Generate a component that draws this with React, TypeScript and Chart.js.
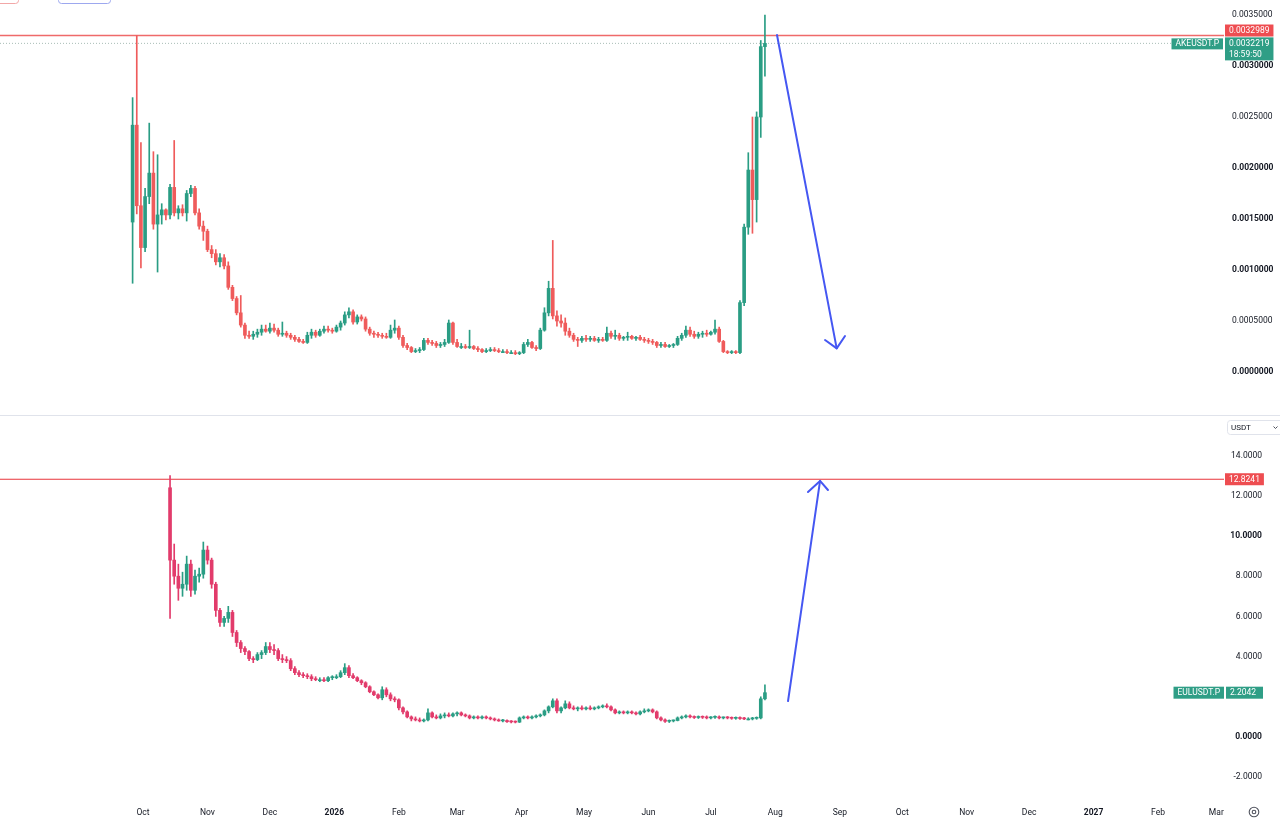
import React, { useEffect, useRef } from "react";
import { Chart, registerables } from "chart.js";

Chart.register(...registerables);

type Candle = [number, number, number, number]; // open, high, low, close

// time axis: day number counted from 1 Oct 2025
const monthTickDays = [0, 31, 61, 92, 123, 151, 182, 212, 243, 273, 304, 335, 365, 396, 426, 457, 488, 516];
const monthTickLabels = ["Oct", "Nov", "Dec", "2026", "Feb", "Mar", "Apr", "May", "Jun", "Jul", "Aug", "Sep", "Oct", "Nov", "Dec", "2027", "Feb", "Mar"];
const visibleDays = [-68.75, 519.7];

// one candle every 2 days
const candleStepDays = 2;
const akeStartDay = -5;
const eulStartDay = 13;

// AKEUSDT.P
const akeCandles: Candle[] = [
  [0.00147, 0.00269, 0.00087, 0.00242], [0.00242, 0.0032989, 0.00155, 0.00163], [0.00163, 0.00225, 0.00102, 0.00122],
  [0.00122, 0.0018, 0.00118, 0.00172], [0.00172, 0.00244, 0.00165, 0.00195], [0.00195, 0.00216, 0.0014, 0.00145],
  [0.00145, 0.00213, 0.00098, 0.00154], [0.00154, 0.00165, 0.00145, 0.00159], [0.00159, 0.0016, 0.00149, 0.00154],
  [0.00154, 0.00184, 0.0015, 0.00181], [0.00181, 0.00227, 0.00153, 0.00156], [0.00156, 0.00163, 0.0015, 0.0016],
  [0.0016, 0.00164, 0.00153, 0.00156], [0.00156, 0.00178, 0.00148, 0.00175], [0.00175, 0.00183, 0.00172, 0.0018],
  [0.0018, 0.00182, 0.00154, 0.00156], [0.00156, 0.0016, 0.0014, 0.00143], [0.00143, 0.00148, 0.00129, 0.00138],
  [0.00138, 0.0014, 0.00118, 0.0012], [0.0012, 0.00124, 0.00112, 0.00116], [0.00116, 0.0012, 0.00105, 0.00108],
  [0.00108, 0.00116, 0.00103, 0.00112], [0.00112, 0.00115, 0.00101, 0.00104], [0.00104, 0.00108, 0.00081, 0.00083],
  [0.00083, 0.00085, 0.0007, 0.00072], [0.00072, 0.00074, 0.00056, 0.00058], [0.00058, 0.00075, 0.00044, 0.00046],
  [0.00046, 0.00048, 0.00033, 0.00036], [0.00036, 0.0004, 0.00033, 0.00035], [0.00035, 0.0004, 0.00032, 0.00037],
  [0.00037, 0.00042, 0.00034, 0.00039], [0.00039, 0.00046, 0.00036, 0.00042], [0.00042, 0.00046, 0.00039, 0.0004],
  [0.0004, 0.00048, 0.00038, 0.00043], [0.00043, 0.00047, 0.00039, 0.00041], [0.00041, 0.00043, 0.00035, 0.00037],
  [0.00037, 0.00049, 0.00035, 0.00038], [0.00038, 0.0004, 0.00034, 0.00036], [0.00036, 0.00038, 0.00032, 0.00034],
  [0.00034, 0.00036, 0.0003, 0.00032], [0.00032, 0.00034, 0.00029, 0.0003], [0.0003, 0.00032, 0.00028, 0.00029],
  [0.00029, 0.00039, 0.00028, 0.00036], [0.00036, 0.00042, 0.00033, 0.00039], [0.00039, 0.00041, 0.00034, 0.00036],
  [0.00036, 0.00042, 0.00035, 0.0004], [0.0004, 0.00045, 0.00038, 0.00042], [0.00042, 0.00045, 0.00039, 0.00041],
  [0.00041, 0.00043, 0.00038, 0.0004], [0.0004, 0.00046, 0.00039, 0.00044], [0.00044, 0.0005, 0.00041, 0.00048],
  [0.00048, 0.00059, 0.00046, 0.00056], [0.00056, 0.00063, 0.00053, 0.00059], [0.00059, 0.00061, 0.00047, 0.00049],
  [0.00049, 0.00056, 0.00047, 0.00054], [0.00054, 0.00056, 0.0005, 0.00052], [0.00052, 0.00054, 0.0004, 0.00042],
  [0.00042, 0.00044, 0.00036, 0.00038], [0.00038, 0.0004, 0.00034, 0.00037], [0.00037, 0.00039, 0.00034, 0.00036],
  [0.00036, 0.00038, 0.00033, 0.00035], [0.00035, 0.00038, 0.00033, 0.00034], [0.00034, 0.00046, 0.00033, 0.00041],
  [0.00041, 0.00051, 0.00038, 0.00043], [0.00043, 0.00045, 0.00032, 0.00034], [0.00034, 0.00036, 0.00024, 0.00026],
  [0.00026, 0.00028, 0.00022, 0.00024], [0.00024, 0.00025, 0.00019, 0.0002], [0.0002, 0.00023, 0.00019, 0.00021],
  [0.00021, 0.00024, 0.00019, 0.00022], [0.00022, 0.00033, 0.00021, 0.00031], [0.00031, 0.00033, 0.00027, 0.00029],
  [0.00029, 0.00031, 0.00026, 0.00028], [0.00028, 0.0003, 0.00024, 0.00026], [0.00026, 0.00029, 0.00024, 0.00027],
  [0.00027, 0.00032, 0.00025, 0.00029], [0.00029, 0.00051, 0.00028, 0.00048], [0.00048, 0.00049, 0.00027, 0.00029],
  [0.00029, 0.00032, 0.00024, 0.00025], [0.00025, 0.00028, 0.00023, 0.00025], [0.00025, 0.00027, 0.00023, 0.00024],
  [0.00024, 0.00041, 0.00023, 0.00025], [0.00025, 0.00026, 0.00022, 0.00023], [0.00023, 0.00025, 0.0002, 0.00022],
  [0.00022, 0.00023, 0.00019, 0.0002], [0.0002, 0.00023, 0.00019, 0.00021], [0.00021, 0.00024, 0.0002, 0.00022],
  [0.00022, 0.00024, 0.0002, 0.00021], [0.00021, 0.00023, 0.00019, 0.0002], [0.0002, 0.00022, 0.00019, 0.0002],
  [0.0002, 0.00022, 0.00018, 0.00019], [0.00019, 0.00021, 0.00018, 0.00019], [0.00019, 0.00021, 0.00017, 0.00018],
  [0.00018, 0.0002, 0.00017, 0.00019], [0.00019, 0.00029, 0.00018, 0.00027], [0.00027, 0.00032, 0.00025, 0.00029],
  [0.00029, 0.0003, 0.00023, 0.00024], [0.00024, 0.00026, 0.00021, 0.00023], [0.00023, 0.00043, 0.00022, 0.00041],
  [0.00041, 0.00063, 0.0004, 0.00058], [0.00058, 0.00089, 0.00055, 0.00082], [0.00082, 0.00129, 0.00052, 0.00055],
  [0.00055, 0.0006, 0.00045, 0.0005], [0.0005, 0.00056, 0.00044, 0.00048], [0.00048, 0.00053, 0.00036, 0.0004],
  [0.0004, 0.00043, 0.00034, 0.00036], [0.00036, 0.00038, 0.0003, 0.00032], [0.00032, 0.00034, 0.00025, 0.00031],
  [0.00031, 0.00035, 0.00029, 0.00033], [0.00033, 0.00036, 0.0003, 0.00032], [0.00032, 0.00035, 0.0003, 0.00033],
  [0.00033, 0.00035, 0.0003, 0.00031], [0.00031, 0.00034, 0.00029, 0.00032], [0.00032, 0.00034, 0.0003, 0.00031],
  [0.00031, 0.00044, 0.0003, 0.00038], [0.00038, 0.0004, 0.00033, 0.00035], [0.00035, 0.00041, 0.00032, 0.00036],
  [0.00036, 0.00038, 0.00031, 0.00033], [0.00033, 0.00035, 0.00031, 0.00034], [0.00034, 0.00039, 0.00031, 0.00035],
  [0.00035, 0.00036, 0.00032, 0.00033], [0.00033, 0.00035, 0.00031, 0.00034], [0.00034, 0.00036, 0.00031, 0.00032],
  [0.00032, 0.00034, 0.00029, 0.00031], [0.00031, 0.00033, 0.00028, 0.0003], [0.0003, 0.00032, 0.00027, 0.00029],
  [0.00029, 0.0003, 0.00024, 0.00026], [0.00026, 0.00029, 0.00024, 0.00027], [0.00027, 0.00029, 0.00024, 0.00025],
  [0.00025, 0.00027, 0.00024, 0.00026], [0.00026, 0.00028, 0.00024, 0.00027], [0.00027, 0.00035, 0.00026, 0.00033],
  [0.00033, 0.00038, 0.00031, 0.00036], [0.00036, 0.00045, 0.00034, 0.00041], [0.00041, 0.00044, 0.00035, 0.00037],
  [0.00037, 0.0004, 0.00033, 0.00035], [0.00035, 0.00039, 0.00033, 0.00037], [0.00037, 0.0004, 0.00034, 0.00038],
  [0.00038, 0.00041, 0.00035, 0.00037], [0.00037, 0.0004, 0.00036, 0.00039], [0.00039, 0.00051, 0.00037, 0.00042],
  [0.00042, 0.00044, 0.00029, 0.0003], [0.0003, 0.00031, 0.00019, 0.0002], [0.0002, 0.00021, 0.00018, 0.00019],
  [0.00019, 0.00021, 0.00018, 0.0002], [0.0002, 0.00021, 0.00018, 0.00019], [0.00019, 0.0007, 0.00018, 0.00068],
  [0.00068, 0.00145, 0.00065, 0.00142], [0.00142, 0.00215, 0.00135, 0.00198], [0.00198, 0.0025, 0.00136, 0.00169],
  [0.00169, 0.00255, 0.00147, 0.0025], [0.0025, 0.00325, 0.0023, 0.00319], [0.00319, 0.0035, 0.0029, 0.0032219],
];

// EULUSDT.P
const eulCandles: Candle[] = [
  [12.4, 13.0, 5.9, 8.8], [8.8, 9.6, 7.6, 8.0], [8.0, 8.6, 6.8, 7.4], [7.4, 8.2, 7.0, 7.6], [7.6, 9.0, 7.3, 8.6],
  [8.6, 8.8, 7.0, 7.3], [7.3, 8.3, 7.1, 8.0], [8.0, 8.4, 7.7, 8.1], [8.1, 9.7, 7.9, 9.3], [9.3, 9.5, 8.6, 8.8],
  [8.8, 8.9, 7.4, 7.6], [7.6, 7.7, 6.0, 6.3], [6.3, 6.4, 5.5, 5.7], [5.7, 6.0, 5.5, 5.9], [5.9, 6.5, 5.7, 6.2],
  [6.2, 6.3, 5.0, 5.2], [5.2, 5.3, 4.5, 4.7], [4.7, 4.8, 4.2, 4.4], [4.4, 4.5, 4.1, 4.25], [4.25, 4.3, 3.8, 3.9],
  [3.9, 4.0, 3.7, 3.85], [3.85, 4.2, 3.8, 4.1], [4.1, 4.3, 3.9, 4.2], [4.2, 4.7, 4.1, 4.5], [4.5, 4.7, 4.2, 4.35],
  [4.35, 4.6, 4.1, 4.3], [4.3, 4.4, 3.8, 3.9], [3.9, 4.1, 3.7, 3.85], [3.85, 4.0, 3.7, 3.8], [3.8, 3.9, 3.3, 3.4],
  [3.4, 3.5, 3.1, 3.2], [3.2, 3.3, 3.0, 3.1], [3.1, 3.2, 2.95, 3.05], [3.05, 3.15, 2.9, 3.0], [3.0, 3.1, 2.8, 2.9],
  [2.9, 3.0, 2.8, 2.85], [2.85, 2.95, 2.75, 2.85], [2.85, 2.95, 2.75, 2.8], [2.8, 3.0, 2.75, 2.95], [2.95, 3.05, 2.85, 3.0],
  [3.0, 3.1, 2.9, 3.0], [3.0, 3.3, 2.95, 3.2], [3.2, 3.65, 3.1, 3.45], [3.45, 3.55, 2.95, 3.05], [3.05, 3.15, 2.9, 2.95],
  [2.95, 3.0, 2.75, 2.8], [2.8, 2.85, 2.6, 2.7], [2.7, 2.75, 2.45, 2.5], [2.5, 2.55, 2.2, 2.25], [2.25, 2.3, 2.05, 2.1],
  [2.1, 2.15, 1.9, 1.95], [1.95, 2.5, 1.85, 2.35], [2.35, 2.45, 2.0, 2.1], [2.1, 2.2, 1.8, 1.9], [1.9, 2.0, 1.75, 1.85],
  [1.85, 1.9, 1.35, 1.45], [1.45, 1.5, 1.15, 1.25], [1.25, 1.3, 0.95, 1.0], [1.0, 1.05, 0.8, 0.9], [0.9, 1.0, 0.8, 0.85],
  [0.85, 0.95, 0.75, 0.8], [0.8, 0.9, 0.75, 0.85], [0.85, 1.4, 0.8, 1.2], [1.2, 1.25, 0.95, 1.0], [1.0, 1.1, 0.9, 0.95],
  [0.95, 1.15, 0.9, 1.05], [1.05, 1.2, 0.95, 1.1], [1.1, 1.2, 1.0, 1.05], [1.05, 1.2, 1.0, 1.15], [1.15, 1.25, 1.05, 1.2],
  [1.2, 1.25, 1.05, 1.1], [1.1, 1.15, 1.0, 1.05], [1.05, 1.1, 0.9, 0.95], [0.95, 1.05, 0.9, 1.0], [1.0, 1.05, 0.9, 0.95],
  [0.95, 1.05, 0.9, 1.0], [1.0, 1.05, 0.9, 0.95], [0.95, 1.0, 0.85, 0.9], [0.9, 0.95, 0.8, 0.85], [0.85, 0.9, 0.78, 0.8],
  [0.8, 0.88, 0.75, 0.82], [0.82, 0.85, 0.72, 0.76], [0.76, 0.82, 0.7, 0.75], [0.75, 0.8, 0.7, 0.74], [0.74, 1.0, 0.72, 0.95],
  [0.95, 1.05, 0.9, 1.0], [1.0, 1.05, 0.9, 0.95], [0.95, 1.05, 0.9, 1.0], [1.0, 1.1, 0.95, 1.05], [1.05, 1.15, 1.0, 1.1],
  [1.1, 1.35, 1.05, 1.3], [1.3, 1.55, 1.2, 1.5], [1.5, 1.9, 1.45, 1.8], [1.8, 1.9, 1.2, 1.3], [1.3, 1.5, 1.2, 1.45],
  [1.45, 1.8, 1.4, 1.65], [1.65, 1.75, 1.4, 1.45], [1.45, 1.55, 1.35, 1.4], [1.4, 1.5, 1.3, 1.45], [1.45, 1.55, 1.35, 1.4],
  [1.4, 1.5, 1.35, 1.45], [1.45, 1.55, 1.35, 1.4], [1.4, 1.5, 1.35, 1.45], [1.45, 1.55, 1.4, 1.5], [1.5, 1.6, 1.45, 1.55],
  [1.55, 1.65, 1.45, 1.5], [1.5, 1.55, 1.3, 1.35], [1.35, 1.4, 1.15, 1.2], [1.2, 1.3, 1.15, 1.25], [1.25, 1.3, 1.15, 1.2],
  [1.2, 1.3, 1.15, 1.25], [1.25, 1.3, 1.15, 1.2], [1.2, 1.25, 1.1, 1.15], [1.15, 1.3, 1.1, 1.25], [1.25, 1.4, 1.2, 1.3],
  [1.3, 1.4, 1.25, 1.35], [1.35, 1.4, 1.2, 1.25], [1.25, 1.3, 0.9, 0.95], [0.95, 1.0, 0.8, 0.85], [0.85, 0.9, 0.72, 0.78],
  [0.78, 0.85, 0.72, 0.8], [0.8, 0.85, 0.75, 0.82], [0.82, 1.0, 0.8, 0.95], [0.95, 1.05, 0.9, 1.0], [1.0, 1.1, 0.95, 1.02],
  [1.02, 1.1, 0.95, 1.0], [1.0, 1.05, 0.92, 0.97], [0.97, 1.05, 0.92, 1.0], [1.0, 1.05, 0.92, 0.98], [0.98, 1.05, 0.9, 0.95],
  [0.95, 1.02, 0.9, 0.98], [0.98, 1.05, 0.92, 1.0], [1.0, 1.05, 0.9, 0.95], [0.95, 1.0, 0.9, 0.97], [0.97, 1.02, 0.9, 0.95],
  [0.95, 1.0, 0.88, 0.93], [0.93, 1.0, 0.88, 0.95], [0.95, 1.0, 0.88, 0.92], [0.92, 0.98, 0.86, 0.9], [0.9, 0.96, 0.85, 0.9],
  [0.9, 0.98, 0.85, 0.93], [0.93, 1.0, 0.88, 0.95], [0.95, 2.0, 0.9, 1.9], [1.9, 2.6, 1.85, 2.2042],
];

// price scales
const akeTicks = [0, 0.0005, 0.001, 0.0015, 0.002, 0.0025, 0.003, 0.0035];
const akeBoldTicks = [0, 0.001, 0.0015, 0.002, 0.003];
const akeRange = [-0.00042157, 0.0036471];
// 2.0000 sits under the last-price tag, so it is not shown
const eulTicks = [-2, 0, 4, 6, 8, 10, 12, 14];
const eulBoldTicks = [0, 10];
const eulRange = [-2.8856, 15.97];

// levels and labels
const akeSymbol = "AKEUSDT.P";
const akeHighLevel = 0.0032989;
const akeLastPrice = 0.0032219;
const akeCountdown = "18:59:50";
const eulSymbol = "EULUSDT.P";
const eulHighLevel = 12.8241;
const eulLastPrice = 2.2042;

// drawn arrows, points as [day, price]
const akeArrowShaft = [[304.8, 0.003304], [333.5, 0.000232]];
const akeArrowHead = [[327.9, 0.000314], [333.5, 0.000232], [337.5, 0.000353]];
const eulArrowShaft = [[310.1, 1.79], [325.5, 12.74]];
const eulArrowHead = [[319.7, 12.19], [325.5, 12.74], [329.3, 12.29]];

const FONT = "Roboto, 'Liberation Sans', sans-serif";
const TEXT = "#131722";
const UP = "#2a9d84";
const AKE_DOWN = "#ef5b5b";
const EUL_DOWN = "#e23b6b";
const ARROW = "#4557f2";
const RED_TAG = "#ee4d51";
const GREEN_TAG = "#2f9e86";
const AXIS_WIDTH = 56;

function candleDatasets(candles: Candle[], startDay: number, down: string): any[] {
  const day = (i: number) => startDay + i * candleStepDays;
  const color = (ctx: any) => {
    const c = candles[ctx.dataIndex];
    return c && c[3] >= c[0] ? UP : down;
  };
  return [
    {
      type: "bar",
      data: candles.map((c, i) => ({ x: day(i), y: [c[0], c[3]] })),
      backgroundColor: color,
      barThickness: 3,
      minBarLength: 1,
      grouped: false,
      order: 1,
    },
    {
      type: "bar",
      data: candles.map((c, i) => ({ x: day(i), y: [c[2], c[1]] })),
      backgroundColor: color,
      barThickness: 1,
      grouped: false,
      order: 2,
    },
  ];
}

function arrowDataset(points: number[][]) {
  return {
    type: "line",
    data: points.map(([x, y]) => ({ x, y })),
    borderColor: ARROW,
    borderWidth: 2,
    borderCapStyle: "round",
    borderJoinStyle: "round",
    pointRadius: 0,
    fill: false,
    tension: 0,
    order: 0,
  };
}

function tag(ctx: CanvasRenderingContext2D, x: number, top: number, h: number, rows: string[], bg: string, alignRight = false, minW = 0) {
  ctx.font = `8.5px ${FONT}`;
  const w = Math.max(minW, Math.max(...rows.map((r) => ctx.measureText(r).width)) + 8);
  const left = alignRight ? x - w : x;
  ctx.fillStyle = bg;
  ctx.fillRect(left, top, w, h);
  ctx.fillStyle = "#ffffff";
  ctx.textAlign = "left";
  ctx.textBaseline = "middle";
  const rowH = h / rows.length;
  rows.forEach((r, i) => ctx.fillText(r, left + 4, top + rowH * i + rowH / 2 + 0.5));
}

function hLine(ctx: CanvasRenderingContext2D, area: any, y: number, color: string, width: number, dash: number[] = []) {
  ctx.save();
  ctx.strokeStyle = color;
  ctx.lineWidth = width;
  ctx.setLineDash(dash);
  ctx.beginPath();
  ctx.moveTo(area.left, y);
  ctx.lineTo(area.right, y);
  ctx.stroke();
  ctx.restore();
}

interface PaneSpec {
  datasets: any[];
  range: number[];
  ticks: number[];
  boldTicks: number[];
  decimals: number;
  crossAlign: "near" | "far";
  tickPadding: number;
  labelRight?: number;
  showTime: boolean;
  under: (chart: any) => void;
  over: (chart: any) => void;
}

function paneConfig(p: PaneSpec): any {
  return {
    type: "bar",
    data: { datasets: p.datasets },
    options: {
      responsive: false,
      maintainAspectRatio: false,
      animation: false,
      events: [],
      layout: { padding: 0 },
      plugins: { legend: { display: false }, tooltip: { enabled: false } },
      scales: {
        x: {
          type: "linear",
          display: p.showTime,
          min: visibleDays[0],
          max: visibleDays[1],
          offset: false,
          grid: { display: false, offset: false, drawTicks: false },
          border: { display: false },
          afterBuildTicks: (s: any) => {
            s.ticks = monthTickDays.map((v) => ({ value: v }));
          },
          afterFit: (s: any) => {
            s.height = p.showTime ? 27 : 0;
            s.paddingLeft = 0;
            s.paddingRight = 0;
          },
          ticks: {
            autoSkip: false,
            maxRotation: 0,
            minRotation: 0,
            padding: 13,
            color: TEXT,
            font: (ctx: any) => ({
              family: FONT,
              size: 8.5,
              weight: /^\d{4}$/.test(monthTickLabels[ctx.index] || "") ? "bold" : "normal",
            }),
            callback: (_v: any, i: number) => monthTickLabels[i],
          },
        },
        y: {
          type: "linear",
          position: "right",
          min: p.range[0],
          max: p.range[1],
          grid: { display: false, drawTicks: false },
          border: { display: false },
          afterBuildTicks: (s: any) => {
            s.ticks = p.ticks.map((v) => ({ value: v }));
          },
          afterFit: (s: any) => {
            s.width = AXIS_WIDTH;
            s.paddingTop = 0;
            s.paddingBottom = 0;
          },
          ticks: {
            crossAlign: p.crossAlign,
            padding: p.tickPadding,
            color: TEXT,
            font: (ctx: any) => {
              const v = ctx.tick ? ctx.tick.value : NaN;
              const bold = p.boldTicks.some((b) => Math.abs(b - v) < 1e-9);
              return { family: FONT, size: 8.5, weight: bold ? "bold" : "normal" };
            },
            callback: (v: any) => Number(v).toFixed(p.decimals),
          },
        },
      },
    },
    plugins: [
      {
        id: "paneDecor",
        // right-aligned price labels end at labelRight instead of the canvas edge
        afterLayout: (chart: any) => {
          if (p.labelRight) chart.scales.y.right = p.labelRight;
        },
        beforeDatasetsDraw: p.under,
        afterDraw: p.over,
      },
    ],
  };
}

export default function App() {
  const topRef = useRef<HTMLCanvasElement | null>(null);
  const bottomRef = useRef<HTMLCanvasElement | null>(null);

  useEffect(() => {
    const charts: Chart[] = [];

    if (topRef.current) {
      charts.push(
        new Chart(
          topRef.current,
          paneConfig({
            datasets: [
              ...candleDatasets(akeCandles, akeStartDay, AKE_DOWN),
              arrowDataset(akeArrowShaft),
              arrowDataset(akeArrowHead),
            ],
            range: akeRange,
            ticks: akeTicks,
            boldTicks: akeBoldTicks,
            decimals: 7,
            crossAlign: "near",
            tickPadding: 8,
            showTime: false,
            under: (chart: any) => {
              const { ctx, chartArea, scales } = chart;
              hLine(ctx, chartArea, scales.y.getPixelForValue(akeHighLevel), "#ef6a6a", 1.5);
              hLine(ctx, chartArea, scales.y.getPixelForValue(akeLastPrice), "#a9bdb6", 1, [1, 2]);
            },
            over: (chart: any) => {
              const { ctx, chartArea, scales } = chart;
              ctx.save();
              // toolbar buttons cut off by the top edge
              ctx.lineWidth = 1;
              ctx.strokeStyle = "#f2a7a7";
              ctx.beginPath();
              ctx.roundRect(-4.5, -8.5, 23, 12, 3);
              ctx.stroke();
              ctx.strokeStyle = "#9da8ef";
              ctx.beginPath();
              ctx.roundRect(58.5, -8.5, 52, 12, 3);
              ctx.stroke();
              const hiY = scales.y.getPixelForValue(akeHighLevel);
              const lastY = scales.y.getPixelForValue(akeLastPrice);
              const x = chartArea.right + 1;
              tag(ctx, x, hiY - 11, 12, [akeHighLevel.toFixed(7)], RED_TAG);
              tag(ctx, x, lastY - 6, 23, [akeLastPrice.toFixed(7), akeCountdown], GREEN_TAG);
              tag(ctx, chartArea.right - 1, lastY - 5, 11, [akeSymbol], GREEN_TAG, true);
              ctx.restore();
            },
          })
        )
      );
    }

    if (bottomRef.current) {
      charts.push(
        new Chart(
          bottomRef.current,
          paneConfig({
            datasets: [
              ...candleDatasets(eulCandles, eulStartDay, EUL_DOWN),
              arrowDataset(eulArrowShaft),
              arrowDataset(eulArrowHead),
            ],
            range: eulRange,
            ticks: eulTicks,
            boldTicks: eulBoldTicks,
            decimals: 4,
            crossAlign: "far",
            tickPadding: 6,
            labelRight: 1262,
            showTime: true,
            under: (chart: any) => {
              const { ctx, chartArea, scales } = chart;
              hLine(ctx, chartArea, scales.y.getPixelForValue(eulHighLevel), "#e8353b", 1.2);
            },
            over: (chart: any) => {
              const { ctx, chartArea, scales } = chart;
              ctx.save();
              const hiY = scales.y.getPixelForValue(eulHighLevel);
              const lastY = scales.y.getPixelForValue(eulLastPrice);
              const x = chartArea.right + 1;
              tag(ctx, x, hiY - 6, 12, [eulHighLevel.toFixed(4)], RED_TAG);
              tag(ctx, x + 1, lastY - 6, 12, [eulLastPrice.toFixed(4)], GREEN_TAG, false, 37);
              tag(ctx, chartArea.right, lastY - 6, 12, [eulSymbol], GREEN_TAG, true);

              // currency selector
              ctx.strokeStyle = "#e0e3eb";
              ctx.lineWidth = 1;
              ctx.beginPath();
              ctx.roundRect(x + 2.5, 4.5, 60, 14, 3);
              ctx.stroke();
              ctx.fillStyle = TEXT;
              ctx.font = `8px ${FONT}`;
              ctx.textAlign = "left";
              ctx.textBaseline = "middle";
              ctx.fillText("USDT", x + 6, 11.5);
              ctx.strokeStyle = "#50535e";
              ctx.beginPath();
              ctx.moveTo(1273.5, 10.5);
              ctx.lineTo(1275.5, 12.5);
              ctx.lineTo(1277.5, 10.5);
              ctx.stroke();

              // settings icon
              ctx.strokeStyle = "#50535e";
              ctx.lineWidth = 1.1;
              ctx.beginPath();
              ctx.arc(1254, 396, 4.8, 0, Math.PI * 2);
              ctx.stroke();
              ctx.beginPath();
              ctx.arc(1254, 396, 1.8, 0, Math.PI * 2);
              ctx.stroke();
              ctx.restore();
            },
          })
        )
      );
    }

    return () => charts.forEach((c) => c.destroy());
  }, []);

  return (
    <div
      style={{
        position: "fixed",
        left: 0,
        top: 0,
        width: 1280,
        height: 822,
        background: "#ffffff",
        overflow: "hidden",
      }}
    >
      <canvas
        ref={topRef}
        width={1280}
        height={415}
        style={{ position: "absolute", left: 0, top: 0, width: 1280, height: 415 }}
      />
      <div style={{ position: "absolute", left: 0, top: 415, width: 1280, height: 1, background: "#e0e3eb" }} />
      <canvas
        ref={bottomRef}
        width={1280}
        height={406}
        style={{ position: "absolute", left: 0, top: 416, width: 1280, height: 406 }}
      />
    </div>
  );
}
